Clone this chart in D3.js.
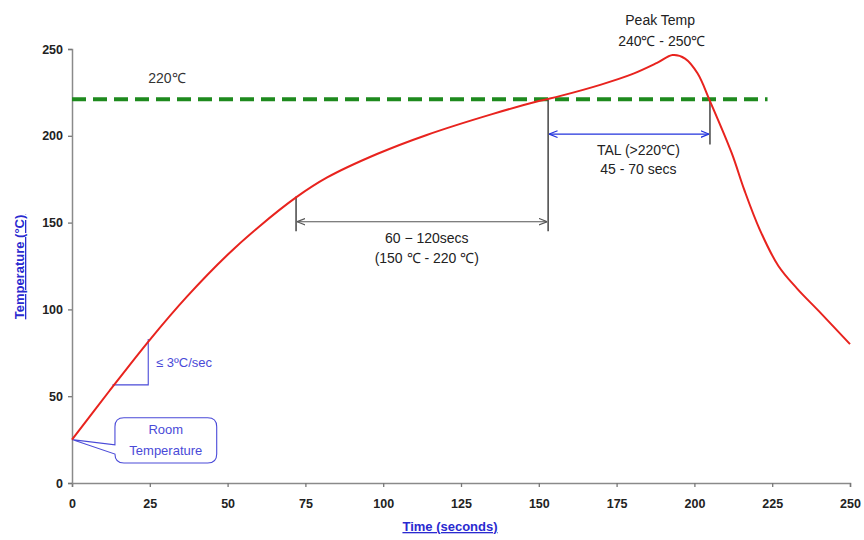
<!DOCTYPE html>
<html>
<head>
<meta charset="utf-8">
<script src="https://cdn.jsdelivr.net/npm/d3@7"></script>
<style>
  body { margin: 0; background: #fff; }
  svg { display: block; font-family: "Liberation Sans", Arial, sans-serif; }
</style>
</head>
<body>
<div id="chart"></div>
<script>
// reflow profile
var times = [0, 12, 25, 37, 50, 60, 72, 82, 98, 114, 135, 150, 157, 170, 180, 188, 193, 197, 201, 205, 212, 216, 221, 227, 233, 240, 250];
var temps = [25, 53, 82.5, 107.5, 131.5, 147.5, 164.5, 176, 189.5, 200.5, 212.5, 220, 223, 229.5, 235.5, 242, 246.5, 244.5, 236, 220, 190, 169, 146, 125, 112, 99, 80];
var xTicks = [0, 25, 50, 75, 100, 125, 150, 175, 200, 225, 250];
var yTicks = [0, 50, 100, 150, 200, 250];
var liquidus = 221;        // green dashed line
var soakStart = 72, soakEnd = 153;
var talEnd = 205;

var margin = {top: 49, right: 14, bottom: 57, left: 72},
    W = 864, H = 540,
    width = W - margin.left - margin.right,
    height = H - margin.top - margin.bottom;

var svg = d3.select("#chart").append("svg")
    .attr("width", W).attr("height", H);

var defs = svg.append("defs");
function marker(id, color) {
    defs.append("marker")
        .attr("id", id)
        .attr("viewBox", "0 0 10 10")
        .attr("refX", 10).attr("refY", 5)
        .attr("markerWidth", 7).attr("markerHeight", 7)
        .attr("orient", "auto-start-reverse")
        .append("path")
        .attr("d", "M0,1 L10,5 L0,9")
        .attr("fill", "none")
        .attr("stroke", color)
        .attr("stroke-width", 1.4);
}
marker("arrGrey", "#555");
marker("arrBlue", "#2233dd");

var g = svg.append("g").attr("transform", `translate(${margin.left},${margin.top})`);

var x = d3.scaleLinear().domain([0, 250]).range([0, width]);
var y = d3.scaleLinear().domain([0, 250]).range([height, 0]);

// axes
var xAxis = g.append("g")
    .attr("transform", `translate(0,${height})`)
    .call(d3.axisBottom(x).tickValues(xTicks).tickSize(4).tickPadding(12));
var yAxis = g.append("g")
    .call(d3.axisLeft(y).tickValues(yTicks).tickSize(4).tickPadding(5));
[xAxis, yAxis].forEach(function(a) {
    a.select(".domain").attr("stroke", "#8a8a8a").attr("stroke-width", 1.5);
    a.selectAll(".tick line").attr("stroke", "#777").attr("stroke-width", 1.3);
    a.selectAll(".tick text")
        .attr("fill", "#222")
        .style("font-size", "12.5px")
        .style("font-weight", "bold");
});

// axis titles
g.append("text")
    .attr("x", 450 - margin.left).attr("y", height + 48)
    .attr("text-anchor", "middle")
    .attr("fill", "#2a2ad0")
    .style("font-size", "13px").style("font-weight", "bold")
    .style("text-decoration", "underline")
    .text("Time (seconds)");

g.append("text")
    .attr("transform", `translate(${24 - margin.left},${267 - margin.top}) rotate(-90)`)
    .attr("text-anchor", "middle")
    .attr("fill", "#2a2ad0")
    .style("font-size", "13px").style("font-weight", "bold")
    .style("text-decoration", "underline")
    .text("Temperature (°C)");

// 220 line
g.append("line")
    .attr("x1", x(0)).attr("x2", x(223.5))
    .attr("y1", y(liquidus)).attr("y2", y(liquidus))
    .attr("stroke", "#1e8a1e")
    .attr("stroke-width", 4)
    .attr("stroke-dasharray", "14,7");

g.append("text")
    .attr("x", x(30.5)).attr("y", y(liquidus) - 16)
    .attr("text-anchor", "middle")
    .attr("fill", "#333")
    .style("font-size", "14px")
    .text("220℃");

// soak dimension
g.selectAll(".soakV")
    .data([[soakStart, 165], [soakEnd, liquidus]])
    .enter().append("line")
    .attr("x1", function(d) { return x(d[0]); })
    .attr("x2", function(d) { return x(d[0]); })
    .attr("y1", function(d) { return y(d[1]); })
    .attr("y2", y(145))
    .attr("stroke", "#444").attr("stroke-width", 1.5);

g.append("line")
    .attr("x1", x(soakStart) + 1).attr("x2", x(soakEnd) - 1)
    .attr("y1", y(150.5)).attr("y2", y(150.5))
    .attr("stroke", "#555").attr("stroke-width", 1.2)
    .attr("marker-start", "url(#arrGrey)")
    .attr("marker-end", "url(#arrGrey)");

g.append("text")
    .attr("x", x(114)).attr("y", y(138))
    .attr("text-anchor", "middle").attr("fill", "#222")
    .style("font-size", "14px")
    .text("60 − 120secs");
g.append("text")
    .attr("x", x(114)).attr("y", y(127))
    .attr("text-anchor", "middle").attr("fill", "#222")
    .style("font-size", "14px")
    .text("(150 ℃ - 220 ℃)");

// TAL dimension
g.append("line")
    .attr("x1", x(talEnd)).attr("x2", x(talEnd))
    .attr("y1", y(liquidus)).attr("y2", y(195))
    .attr("stroke", "#444").attr("stroke-width", 1.5);

g.append("line")
    .attr("x1", x(soakEnd) + 1).attr("x2", x(talEnd) - 1)
    .attr("y1", y(201)).attr("y2", y(201))
    .attr("stroke", "#2233dd").attr("stroke-width", 1.2)
    .attr("marker-start", "url(#arrBlue)")
    .attr("marker-end", "url(#arrBlue)");

g.append("text")
    .attr("x", x(182)).attr("y", y(189))
    .attr("text-anchor", "middle").attr("fill", "#222")
    .style("font-size", "14px")
    .text("TAL (>220℃)");
g.append("text")
    .attr("x", x(182)).attr("y", y(178))
    .attr("text-anchor", "middle").attr("fill", "#222")
    .style("font-size", "14px")
    .text("45 - 70 secs");

// peak label
g.append("text")
    .attr("x", x(189)).attr("y", -24)
    .attr("text-anchor", "middle").attr("fill", "#222")
    .style("font-size", "14px")
    .text("Peak Temp");
g.append("text")
    .attr("x", x(189.5)).attr("y", -3)
    .attr("text-anchor", "middle").attr("fill", "#222")
    .style("font-size", "14px")
    .text("240℃ - 250℃");

// slope triangle
g.append("path")
    .attr("d", d3.line()([[x(13), y(56.5)], [x(24.5), y(56.5)], [x(24.5), y(83)]]))
    .attr("fill", "none").attr("stroke", "#4a4ad8").attr("stroke-width", 1.1);
g.append("text")
    .attr("x", x(27)).attr("y", y(67))
    .attr("fill", "#4a4ad8")
    .style("font-size", "13px")
    .text("≤ 3ºC/sec");

// room temperature callout
var bx0 = x(13.8), bx1 = x(46.5), by0 = y(37.6), by1 = y(11.5), r = 9;
var tipX = x(0), tipY = y(25);
var callout = d3.path();
callout.moveTo(bx0 + r, by0);
callout.lineTo(bx1 - r, by0);
callout.quadraticCurveTo(bx1, by0, bx1, by0 + r);
callout.lineTo(bx1, by1 - r);
callout.quadraticCurveTo(bx1, by1, bx1 - r, by1);
callout.lineTo(bx0 + r, by1);
callout.quadraticCurveTo(bx0, by1, bx0, by1 - r);
callout.lineTo(tipX, tipY);
callout.lineTo(bx0, y(22));
callout.lineTo(bx0, by0 + r);
callout.quadraticCurveTo(bx0, by0, bx0 + r, by0);
g.append("path")
    .attr("d", callout.toString())
    .attr("fill", "#fff").attr("stroke", "#4a4ad8").attr("stroke-width", 1.1);
g.append("text")
    .attr("x", (bx0 + bx1) / 2).attr("y", y(28))
    .attr("text-anchor", "middle").attr("fill", "#4a4ad8")
    .style("font-size", "13px")
    .text("Room");
g.append("text")
    .attr("x", (bx0 + bx1) / 2).attr("y", y(16))
    .attr("text-anchor", "middle").attr("fill", "#4a4ad8")
    .style("font-size", "13px")
    .text("Temperature");

// profile curve
var profile = times.map(function(t, i) { return [t, temps[i]]; });
g.append("path")
    .datum(profile)
    .attr("fill", "none")
    .attr("stroke", "#e8231e")
    .attr("stroke-width", 2)
    .attr("d", d3.line()
        .curve(d3.curveCatmullRom.alpha(0.5))
        .x(function(d) { return x(d[0]); })
        .y(function(d) { return y(d[1]); }));
</script>
</body>
</html>
